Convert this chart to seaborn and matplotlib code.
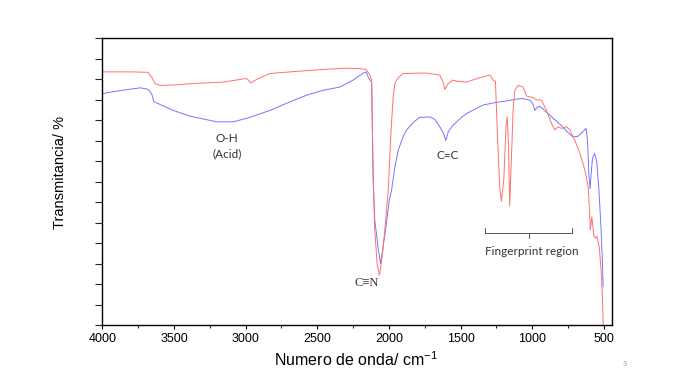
import matplotlib
matplotlib.use("Agg")
import matplotlib.pyplot as plt
import seaborn as sns
import pandas as pd
from matplotlib.ticker import MultipleLocator, NullFormatter

# ---------------- data ----------------
red_wn = [4000, 3800, 3680, 3650, 3632, 3597, 3500, 3389, 3158, 2993, 2963, 2923, 2830,
          2690, 2460, 2300, 2200, 2160, 2135, 2121, 2110, 2099, 2083, 2067, 2058, 2043,
          2027, 2011, 2005, 1985, 1970, 1958, 1940, 1902, 1800, 1737, 1680, 1645, 1620,
          1610, 1590, 1555, 1520, 1460, 1400, 1345, 1296, 1273, 1257, 1245, 1227,
          1215, 1198, 1184, 1175, 1166, 1158, 1146, 1134, 1122, 1099, 1064, 1040, 1017,
          994, 971, 936, 901, 866, 843, 820, 796, 761, 738, 703, 668, 633, 610, 600,
          595, 585, 570, 560, 550, 533, 520, 510, 505, 500]
red_t = [61.8, 61.8, 61.7, 60.2, 58.9, 58.5, 58.6, 58.9, 59.3, 60.2, 59.1, 60.0, 61.4,
         61.8, 62.4, 62.7, 62.6, 62.4, 61.2, 59.8, 35.4, 23.2, 15.1, 12.2, 13.9, 18.3,
         24.0, 30.5, 32.9, 47.6, 56.1, 59.0, 60.2, 61.4, 61.5, 61.5, 61.2, 61.0, 59.0,
         57.5, 58.8, 59.8, 59.5, 59.3, 60.0, 60.6, 61.0, 59.8, 59.5, 48.0, 33.5,
         30.2, 36.0, 48.0, 50.9, 44.1, 29.1, 40.2, 52.4, 57.3, 58.5, 58.1, 55.9, 55.7,
         55.5, 55.0, 54.9, 52.4, 49.2, 47.6, 48.4, 48.0, 48.4, 47.6, 45.1, 41.9, 37.8,
         33.7, 27.3, 23.2, 26.4, 21.7, 21.2, 21.7, 19.1, 13.4, 6.1, 0.0, -3.0]

blue_wn = [4000, 3900, 3800, 3737, 3700, 3679, 3656, 3640, 3620, 3505, 3390, 3200, 3085,
           2970, 2830, 2690, 2575, 2460, 2342, 2250, 2180, 2160, 2140, 2121, 2110, 2099,
           2086, 2075, 2058, 2044, 2021, 1998, 1982, 1960, 1935, 1900, 1877, 1830, 1785,
           1715, 1680, 1645, 1620, 1603, 1585, 1552, 1500, 1460, 1400, 1343, 1260, 1180,
           1100, 1064, 1017, 995, 982, 965, 947, 900, 855, 800, 760, 716, 680, 650, 625,
           615, 605, 597, 590, 580, 565, 550, 535, 520, 510, 506]
blue_t = [56.5, 57.1, 57.6, 57.9, 57.7, 57.5, 56.5, 54.5, 54.2, 52.4, 51.0, 49.6, 49.6,
          50.7, 52.4, 54.5, 56.1, 57.3, 58.1, 59.8, 61.5, 61.8, 60.2, 59.3, 35.4, 25.5,
          22.0, 18.5, 15.0, 18.3, 24.0, 30.5, 32.9, 38.3, 42.7, 46.1, 47.6, 49.5, 50.7,
          50.8, 50.2, 48.4, 46.8, 45.1, 47.3, 48.8, 50.5, 51.6, 52.7, 53.7, 54.3, 54.7,
          55.2, 55.3, 54.9, 53.9, 52.4, 53.2, 53.4, 51.9, 50.5, 48.8, 47.3, 45.9, 46.1,
          47.1, 48.0, 45.1, 36.6, 33.3, 36.6, 40.7, 41.9, 39.8, 32.9, 23.2, 14.6, 9.3]

x_ticks = [4000, 3500, 3000, 2500, 2000, 1500, 1000, 500]
x_label = "Numero de onda/ cm$^{-1}$"
y_label = "Transmitancia/ %"

# annotation texts and anchor positions (wavenumber, transmittance)
ann_oh = ("O-H", 3132, 45.5)
ann_acid = ("(Acid)", 3132, 41.7)
ann_cc = ("C=C", 1590, 41.5)
ann_cn = ("C\u2261N", 2155, 10.2)
ann_fp = ("Fingerprint region", 1004, 18.0)
brace_x = [1330, 725, 1023]
brace_y = [23.7, 22.5, 21.3]

# ---------------- figure ----------------
sns.set_theme(style="ticks")
plt.rcParams['font.family'] = ['Liberation Sans', 'DejaVu Sans']
plt.rcParams['mathtext.fontset'] = 'custom'
plt.rcParams['mathtext.rm'] = 'Liberation Sans'
plt.rcParams['mathtext.it'] = 'Liberation Sans:italic'

fig = plt.figure(figsize=(6.8, 3.83), dpi=100)
fig.patch.set_facecolor("white")
ax = fig.add_axes([102.3 / 680, 1 - 325 / 383, (611.7 - 102.3) / 680, (325 - 38.3) / 383])
ax.set_facecolor("white")

df_b = pd.DataFrame({"wn": blue_wn, "t": blue_t})
df_r = pd.DataFrame({"wn": red_wn, "t": red_t})
sns.lineplot(data=df_b, x="wn", y="t", ax=ax, color="#7474ff", lw=0.7, sort=False, estimator=None)
sns.lineplot(data=df_r, x="wn", y="t", ax=ax, color="#ff7070", lw=0.7, sort=False, estimator=None)

ax.set_xlim(4000, 446)
ax.set_ylim(0, 70)
ax.set_xticks(x_ticks)
ax.set_xticklabels([str(v) for v in x_ticks])
ax.xaxis.set_minor_locator(MultipleLocator(250))
ax.yaxis.set_major_locator(MultipleLocator(5))
ax.yaxis.set_major_formatter(NullFormatter())
ax.tick_params(axis="x", which="major", direction="out", length=3, width=0.8, labelsize=9, pad=3, colors="black")
ax.tick_params(axis="x", which="minor", direction="out", length=2, width=0.8)
ax.tick_params(axis="y", which="major", direction="out", length=5, width=0.8)
for s in ax.spines.values():
    s.set_visible(True)
    s.set_color("black")
    s.set_linewidth(1.0)
ax.set_xlabel("")
ax.set_ylabel("")

fig.text(356 / 680, 1 - 366 / 383, x_label, ha="center", va="baseline", fontsize=11.5, color="black")
fig.text(60.5 / 680, 1 - 173 / 383, y_label, ha="center", va="center", rotation=90, fontsize=10.5, color="black")

ann_font = dict(family=["Lato", "DejaVu Sans"], fontsize=8.5, color="#333333", ha="center", va="center")
for txt, xx, yy in (ann_oh, ann_acid, ann_cc, ann_fp):
    ax.text(xx, yy, txt, **ann_font)
ax.text(ann_cn[1], ann_cn[2], ann_cn[0], family=["Liberation Serif", "DejaVu Serif"], fontsize=9,
        color="#333333", ha="center", va="center")

bc = "#555555"
ax.plot([brace_x[0], brace_x[1]], [brace_y[1], brace_y[1]], color=bc, lw=0.7)
ax.plot([brace_x[0], brace_x[0]], [brace_y[1], brace_y[0]], color=bc, lw=0.7)
ax.plot([brace_x[1], brace_x[1]], [brace_y[1], brace_y[0]], color=bc, lw=0.7)
ax.plot([brace_x[2], brace_x[2]], [brace_y[1], brace_y[2]], color=bc, lw=0.7)

fig.text(625 / 680, 1 - 365 / 383, "3", fontsize=5, color="#999999", ha="center", va="center")

fig.savefig("out.png", dpi=100, facecolor="white")
